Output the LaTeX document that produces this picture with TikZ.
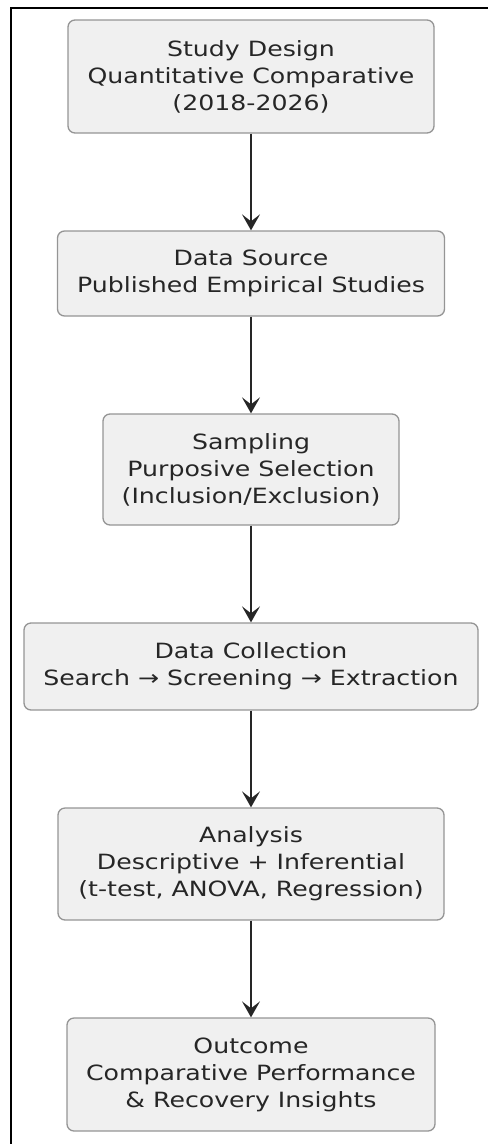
\documentclass[tikz,border=0pt]{standalone}
\usepackage{fontspec}
\setmainfont[FakeStretch=1.2]{DejaVu Sans}
\usetikzlibrary{positioning, arrows.meta}

\definecolor{boxfill}{HTML}{F0F0F0}
\definecolor{boxline}{HTML}{959595}
\definecolor{inkgray}{HTML}{262626}

\begin{document}
\begin{tikzpicture}[
  x=1pt, y=-1pt,
  >={Stealth[length=16pt, width=18pt, inset=7pt]},
  stage/.style={draw=boxline, line width=1.3pt, fill=boxfill, rounded corners=7pt,
    align=center, text=inkgray, inner sep=0pt,
    font=\fontsize{21pt}{27pt}\selectfont},
  flow/.style={->, draw=inkgray, line width=1.7pt},
]
\useasboundingbox (0,0) rectangle (488,1144);

% --- Frame ---
\draw[line width=2pt] (11,1144) -- (11,8) -- (488,8);

% --- Stages ---
\node[stage, minimum width=366pt, minimum height=113pt] (design) at (251,76.5)
  {Study Design\\Quantitative Comparative\\(2018-2026)};
\node[stage, minimum width=387pt, minimum height=85pt] (source) at (251,273.5)
  {Data Source\\Published Empirical Studies};
\node[stage, minimum width=296pt, minimum height=111pt] (sampling) at (251,469.5)
  {Sampling\\Purposive Selection\\(Inclusion/Exclusion)};
\node[stage, minimum width=454pt, minimum height=87pt] (collection) at (251,666.5)
  {Data Collection\\Search → Screening → Extraction};
\node[stage, minimum width=386pt, minimum height=112pt] (analysis) at (251,864)
  {Analysis\\Descriptive + Inferential\\(t-test, ANOVA, Regression)};
\node[stage, minimum width=368pt, minimum height=113pt] (outcome) at (251,1074.5)
  {Outcome\\Comparative Performance\\\& Recovery Insights};

% --- Flow ---
\draw[flow] (design) -- (source);
\draw[flow] (source) -- (sampling);
\draw[flow] (sampling) -- (collection);
\draw[flow] (collection) -- (analysis);
\draw[flow] (analysis) -- (outcome);

\end{tikzpicture}
\end{document}
